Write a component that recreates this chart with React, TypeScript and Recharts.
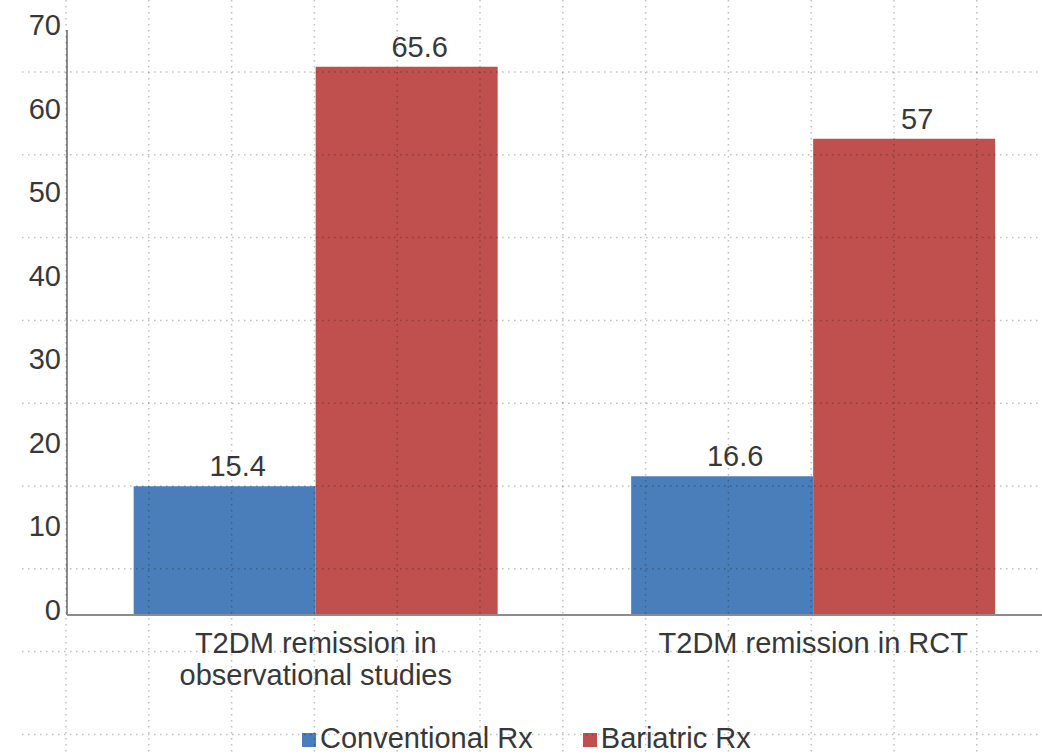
import React from 'react';
import { BarChart, Bar, XAxis, YAxis, LabelList } from 'recharts';

const categories = ['T2DM remission in observational studies', 'T2DM remission in RCT'];
const conventional = [15.4, 16.6];
const bariatric = [65.6, 57];
const yTicks = [0, 10, 20, 30, 40, 50, 60, 70];

const seriesNames = { conventional: 'Conventional Rx', bariatric: 'Bariatric Rx' };
const colors = { conventional: '#4A7EBB', bariatric: '#C0504D' };

const chartData = categories.map((name, i) => ({
  name,
  conventional: conventional[i],
  bariatric: bariatric[i],
}));

const FONT = '"Liberation Sans", Arial, sans-serif';
const TEXT = '#383838';
const AXIS = '#8c8c8c';
const FS = 29;

const W = 1042;
const H = 756;

// greedy wrap for long category labels
const wrap = (label: string, max = 21) => {
  const lines: string[] = [];
  let cur = '';
  label.split(' ').forEach(word => {
    const next = cur ? `${cur} ${word}` : word;
    if (next.length > max && cur) {
      lines.push(cur);
      cur = word;
    } else {
      cur = next;
    }
  });
  if (cur) lines.push(cur);
  return lines;
};

const XTick = ({ x, y, payload }: any) => {
  const lines = wrap(payload.value);
  return (
    <text x={x} y={y} textAnchor="middle" fontSize={FS} fontFamily={FONT} fill={TEXT}>
      {lines.map((l, i) => (
        <tspan key={i} x={x} dy={i === 0 ? 30 : 32}>
          {l}
        </tspan>
      ))}
    </text>
  );
};

const YTick = ({ x, y, payload }: any) => (
  <text x={x} y={y} dy={5} textAnchor="end" fontSize={FS} fontFamily={FONT} fill={TEXT}>
    {payload.value}
  </text>
);

// slide-style dotted grid drawn over the whole picture
const GridOverlay = () => {
  const step = 82.8;
  const vx: number[] = [];
  for (let x = 66; x < W; x += step) vx.push(x);
  const hy: number[] = [];
  for (let y = 72; y < H; y += step) hy.push(y);
  return (
    <svg width={W} height={H} style={{ position: 'absolute', left: 0, top: 0, pointerEvents: 'none' }}>
      {hy.map(y => (
        <line key={'h' + y} x1={22} x2={W} y1={y} y2={y} stroke="rgba(0,0,0,0.25)" strokeWidth={1.5} strokeDasharray="1.5 4.5" />
      ))}
      {vx.map(x => (
        <line key={'v' + x} x1={x} x2={x} y1={0} y2={H} stroke="rgba(0,0,0,0.25)" strokeWidth={1.5} strokeDasharray="1.5 4.5" />
      ))}
    </svg>
  );
};

const LegendItem = ({ color, label }: { color: string; label: string }) => (
  <div style={{ display: 'flex', alignItems: 'center' }}>
    <span style={{ width: 14, height: 14, background: color, marginRight: 4, marginTop: 4 }} />
    <span>{label}</span>
  </div>
);

export default function App() {
  return (
    <div
      style={{
        position: 'absolute',
        left: 0,
        top: 0,
        width: W,
        height: H,
        overflow: 'hidden',
        background: '#fff',
        fontFamily: FONT,
      }}
    >
      <BarChart
        width={1062}
        height={H}
        data={chartData}
        margin={{ top: 30, right: 0, left: 0, bottom: 51 }}
        barCategoryGap="13.4%"
        barGap={0}
      >
        <XAxis
          dataKey="name"
          height={90}
          interval={0}
          tick={<XTick />}
          tickLine={false}
          axisLine={{ stroke: AXIS, strokeWidth: 2 }}
        />
        <YAxis
          width={67}
          domain={[0, 70]}
          ticks={yTicks}
          interval={0}
          tick={<YTick />}
          tickLine={false}
          tickMargin={0}
          axisLine={{ stroke: AXIS, strokeWidth: 2 }}
        />
        <Bar dataKey="conventional" name={seriesNames.conventional} fill={colors.conventional} isAnimationActive={false}>
          <LabelList dataKey="conventional" position="top" offset={10} dx={13} fontSize={FS} fontFamily={FONT} fill={TEXT} />
        </Bar>
        <Bar dataKey="bariatric" name={seriesNames.bariatric} fill={colors.bariatric} isAnimationActive={false}>
          <LabelList dataKey="bariatric" position="top" offset={10} dx={13} fontSize={FS} fontFamily={FONT} fill={TEXT} />
        </Bar>
      </BarChart>
      <div
        style={{
          position: 'absolute',
          left: 302,
          top: 721,
          display: 'flex',
          gap: 50,
          fontSize: FS,
          color: TEXT,
          lineHeight: '34px',
          whiteSpace: 'nowrap',
        }}
      >
        <LegendItem color={colors.conventional} label={seriesNames.conventional} />
        <LegendItem color={colors.bariatric} label={seriesNames.bariatric} />
      </div>
      <GridOverlay />
    </div>
  );
}
